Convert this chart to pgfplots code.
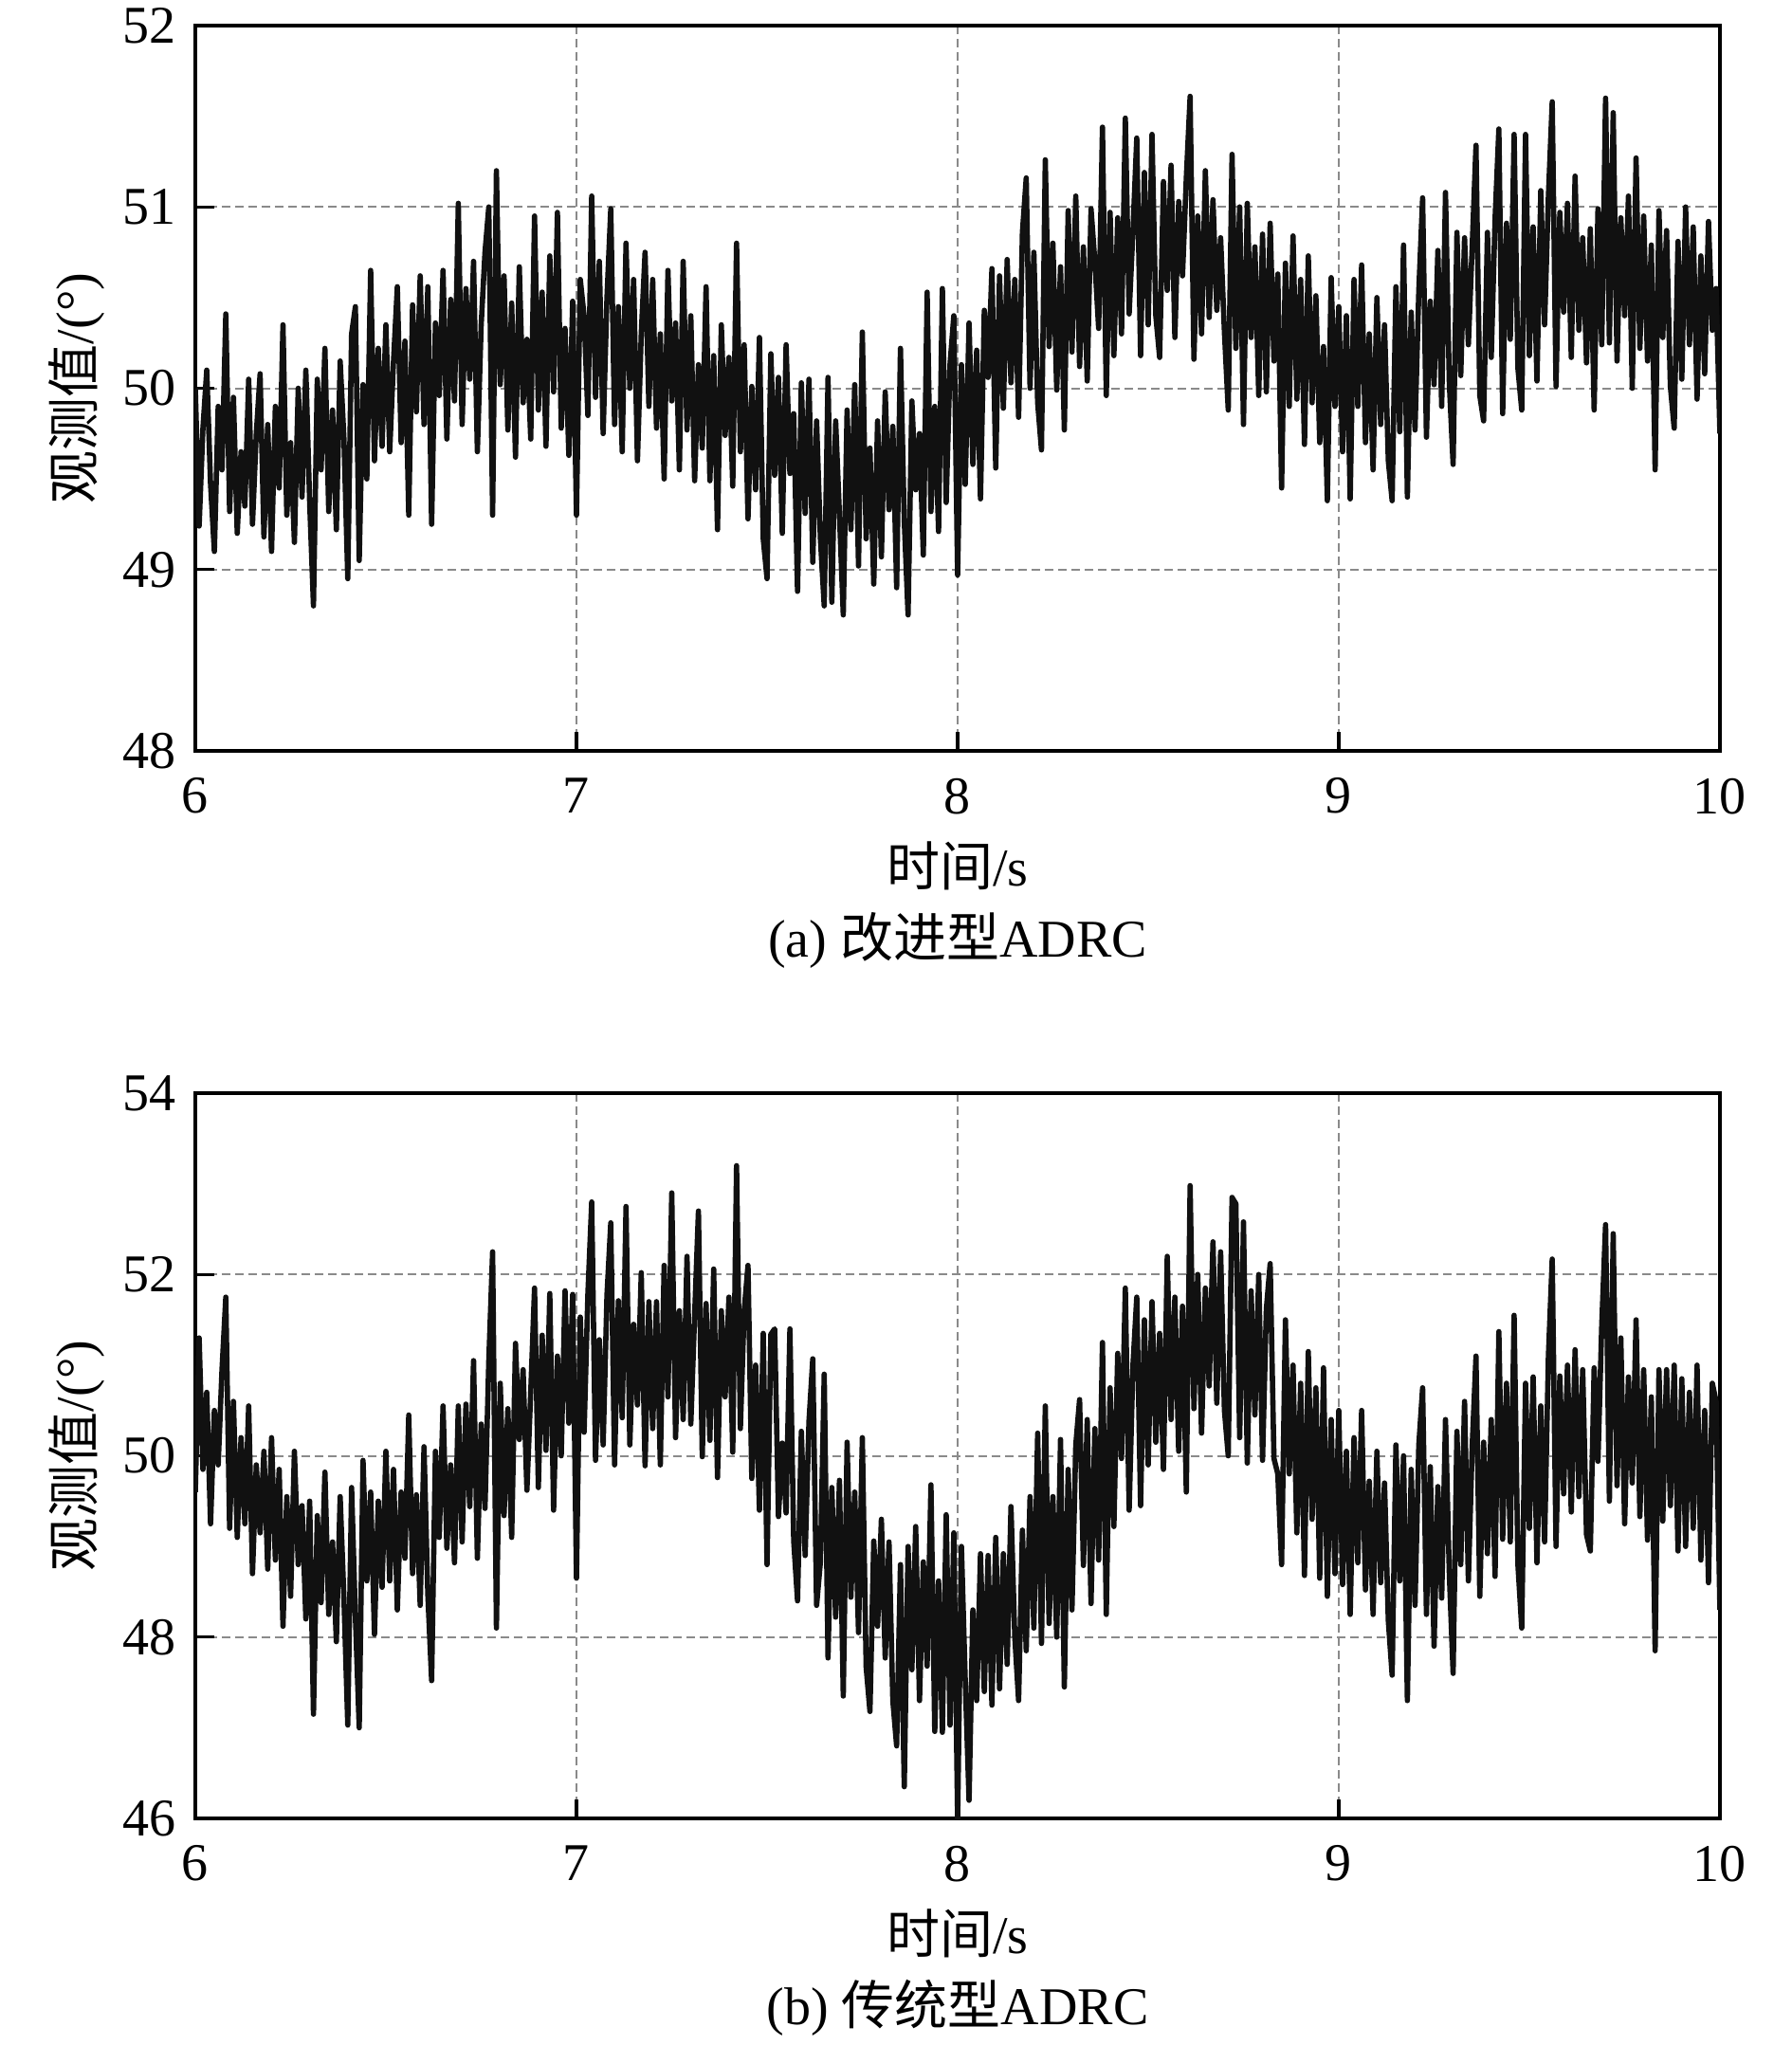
\documentclass[border=0pt]{standalone}
\usepackage{fontspec}
\setmainfont{Liberation Serif}
\newfontfamily\cjk{Noto Sans CJK SC}
\usepackage{pgfplots}
\usepackage{pgfplotstable}
\pgfplotsset{compat=1.18}
\definecolor{gridG}{HTML}{8A8A8A}
\definecolor{inkD}{HTML}{111111}

% (a) improved ADRC, observed angle
\pgfplotstableread[row sep=\\]{t y\\
6.00 50.00\\ 6.01 49.24\\ 6.02 49.78\\ 6.03 50.10\\ 6.04 49.47\\ 6.05 49.10\\ 6.06 49.90\\ 6.07 49.55\\ 6.08 50.41\\ 6.09 49.32\\
6.10 49.95\\ 6.11 49.20\\ 6.12 49.65\\ 6.13 49.35\\ 6.14 50.05\\ 6.15 49.25\\ 6.16 49.75\\ 6.17 50.08\\ 6.18 49.18\\ 6.19 49.80\\
6.20 49.10\\ 6.21 49.90\\ 6.22 49.45\\ 6.23 50.35\\ 6.24 49.30\\ 6.25 49.70\\ 6.26 49.15\\ 6.27 50.00\\ 6.28 49.40\\ 6.29 50.10\\
6.30 49.37\\ 6.31 48.80\\ 6.32 50.05\\ 6.33 49.55\\ 6.34 50.22\\ 6.35 49.32\\ 6.36 49.88\\ 6.37 49.22\\ 6.38 50.15\\ 6.39 49.72\\
6.40 48.95\\ 6.41 50.30\\ 6.42 50.45\\ 6.43 49.05\\ 6.44 50.02\\ 6.45 49.50\\ 6.46 50.65\\ 6.47 49.60\\ 6.48 50.22\\ 6.49 49.68\\
6.50 50.35\\ 6.51 49.65\\ 6.52 50.15\\ 6.53 50.56\\ 6.54 49.70\\ 6.55 50.26\\ 6.56 49.30\\ 6.57 50.46\\ 6.58 49.87\\ 6.59 50.62\\
6.60 49.80\\ 6.61 50.56\\ 6.62 49.25\\ 6.63 50.36\\ 6.64 49.96\\ 6.65 50.65\\ 6.66 49.72\\ 6.67 50.49\\ 6.68 49.93\\ 6.69 51.02\\
6.70 49.80\\ 6.71 50.55\\ 6.72 50.05\\ 6.73 50.70\\ 6.74 49.65\\ 6.75 50.35\\ 6.76 50.75\\ 6.77 51.00\\ 6.78 49.30\\ 6.79 51.20\\
6.80 50.02\\ 6.81 50.62\\ 6.82 49.77\\ 6.83 50.47\\ 6.84 49.62\\ 6.85 50.67\\ 6.86 49.92\\ 6.87 50.27\\ 6.88 49.72\\ 6.89 50.95\\
6.90 49.88\\ 6.91 50.53\\ 6.92 49.68\\ 6.93 50.73\\ 6.94 49.98\\ 6.95 50.97\\ 6.96 49.78\\ 6.97 50.33\\ 6.98 49.63\\ 6.99 50.48\\
7.00 49.30\\ 7.01 50.60\\ 7.02 50.40\\ 7.03 49.85\\ 7.04 51.06\\ 7.05 49.95\\ 7.06 50.70\\ 7.07 49.75\\ 7.08 50.50\\ 7.09 50.99\\
7.10 49.80\\ 7.11 50.45\\ 7.12 49.65\\ 7.13 50.80\\ 7.14 50.00\\ 7.15 50.60\\ 7.16 49.60\\ 7.17 50.30\\ 7.18 50.75\\ 7.19 49.90\\
7.20 50.60\\ 7.21 49.78\\ 7.22 50.30\\ 7.23 49.50\\ 7.24 50.65\\ 7.25 49.93\\ 7.26 50.36\\ 7.27 49.55\\ 7.28 50.70\\ 7.29 49.77\\
7.30 50.40\\ 7.31 49.49\\ 7.32 50.13\\ 7.33 49.67\\ 7.34 50.56\\ 7.35 49.49\\ 7.36 50.18\\ 7.37 49.22\\ 7.38 50.35\\ 7.39 49.74\\
7.40 50.17\\ 7.41 49.46\\ 7.42 50.80\\ 7.43 49.65\\ 7.44 50.24\\ 7.45 49.28\\ 7.46 50.01\\ 7.47 49.44\\ 7.48 50.28\\ 7.49 49.17\\
7.50 48.95\\ 7.51 50.19\\ 7.52 49.52\\ 7.53 50.06\\ 7.54 49.20\\ 7.55 50.24\\ 7.56 49.53\\ 7.57 49.86\\ 7.58 48.88\\ 7.59 50.03\\
7.60 49.31\\ 7.61 50.05\\ 7.62 49.04\\ 7.63 49.82\\ 7.64 49.17\\ 7.65 48.80\\ 7.66 50.06\\ 7.67 48.82\\ 7.68 49.82\\ 7.69 49.30\\
7.70 48.75\\ 7.71 49.88\\ 7.72 49.22\\ 7.73 50.02\\ 7.74 49.02\\ 7.75 50.31\\ 7.76 49.17\\ 7.77 49.67\\ 7.78 48.92\\ 7.79 49.82\\
7.80 49.07\\ 7.81 49.98\\ 7.82 49.33\\ 7.83 49.79\\ 7.84 48.90\\ 7.85 50.22\\ 7.86 49.27\\ 7.87 48.75\\ 7.88 49.93\\ 7.89 49.44\\
7.90 49.75\\ 7.91 49.08\\ 7.92 50.53\\ 7.93 49.32\\ 7.94 49.90\\ 7.95 49.21\\ 7.96 50.55\\ 7.97 49.37\\ 7.98 50.13\\ 7.99 50.40\\
8.00 48.97\\ 8.01 50.13\\ 8.02 49.47\\ 8.03 50.36\\ 8.04 49.58\\ 8.05 50.21\\ 8.06 49.39\\ 8.07 50.43\\ 8.08 50.06\\ 8.09 50.66\\
8.10 49.56\\ 8.11 50.62\\ 8.12 49.89\\ 8.13 50.71\\ 8.14 50.03\\ 8.15 50.60\\ 8.16 49.84\\ 8.17 50.86\\ 8.18 51.16\\ 8.19 50.00\\
8.20 50.75\\ 8.21 49.92\\ 8.22 49.66\\ 8.23 51.26\\ 8.24 50.23\\ 8.25 50.80\\ 8.26 49.99\\ 8.27 50.67\\ 8.28 49.77\\ 8.29 50.98\\
8.30 50.20\\ 8.31 51.06\\ 8.32 50.12\\ 8.33 50.78\\ 8.34 50.04\\ 8.35 50.99\\ 8.36 50.70\\ 8.37 50.33\\ 8.38 51.44\\ 8.39 49.96\\
8.40 50.97\\ 8.41 50.18\\ 8.42 50.94\\ 8.43 50.30\\ 8.44 51.49\\ 8.45 50.41\\ 8.46 50.87\\ 8.47 51.38\\ 8.48 50.18\\ 8.49 51.19\\
8.50 50.35\\ 8.51 51.40\\ 8.52 50.40\\ 8.53 50.17\\ 8.54 51.14\\ 8.55 50.54\\ 8.56 51.23\\ 8.57 50.28\\ 8.58 51.03\\ 8.59 50.62\\
8.60 51.16\\ 8.61 51.61\\ 8.62 50.16\\ 8.63 50.95\\ 8.64 50.30\\ 8.65 51.20\\ 8.66 50.39\\ 8.67 51.04\\ 8.68 50.43\\ 8.69 50.83\\
8.70 50.31\\ 8.71 49.88\\ 8.72 51.29\\ 8.73 50.22\\ 8.74 51.00\\ 8.75 49.80\\ 8.76 51.02\\ 8.77 50.28\\ 8.78 50.78\\ 8.79 49.96\\
8.80 50.85\\ 8.81 49.98\\ 8.82 50.91\\ 8.83 50.15\\ 8.84 50.63\\ 8.85 49.45\\ 8.86 50.69\\ 8.87 49.90\\ 8.88 50.84\\ 8.89 49.94\\
8.90 50.60\\ 8.91 49.69\\ 8.92 50.73\\ 8.93 49.92\\ 8.94 50.51\\ 8.95 49.70\\ 8.96 50.23\\ 8.97 49.38\\ 8.98 50.61\\ 8.99 49.90\\
9.00 50.45\\ 9.01 49.65\\ 9.02 50.40\\ 9.03 49.39\\ 9.04 50.60\\ 9.05 49.90\\ 9.06 50.68\\ 9.07 49.70\\ 9.08 50.30\\ 9.09 49.55\\
9.10 50.50\\ 9.11 49.80\\ 9.12 50.35\\ 9.13 49.60\\ 9.14 49.38\\ 9.15 50.56\\ 9.16 49.76\\ 9.17 50.79\\ 9.18 49.40\\ 9.19 50.42\\
9.20 49.77\\ 9.21 50.54\\ 9.22 51.05\\ 9.23 49.73\\ 9.24 50.48\\ 9.25 50.02\\ 9.26 50.76\\ 9.27 49.90\\ 9.28 51.08\\ 9.29 50.03\\
9.30 49.58\\ 9.31 50.86\\ 9.32 50.07\\ 9.33 50.83\\ 9.34 50.24\\ 9.35 50.78\\ 9.36 51.34\\ 9.37 49.96\\ 9.38 49.82\\ 9.39 50.86\\
9.40 50.17\\ 9.41 50.93\\ 9.42 51.43\\ 9.43 49.86\\ 9.44 50.91\\ 9.45 50.27\\ 9.46 51.40\\ 9.47 50.11\\ 9.48 49.88\\ 9.49 51.40\\
9.50 50.18\\ 9.51 50.89\\ 9.52 50.04\\ 9.53 51.09\\ 9.54 50.35\\ 9.55 51.06\\ 9.56 51.58\\ 9.57 50.01\\ 9.58 50.97\\ 9.59 50.42\\
9.60 51.02\\ 9.61 50.17\\ 9.62 51.17\\ 9.63 50.32\\ 9.64 50.83\\ 9.65 50.14\\ 9.66 50.88\\ 9.67 49.88\\ 9.68 50.99\\ 9.69 50.24\\
9.70 51.60\\ 9.71 50.25\\ 9.72 51.52\\ 9.73 50.15\\ 9.74 50.94\\ 9.75 50.40\\ 9.76 51.06\\ 9.77 50.00\\ 9.78 51.27\\ 9.79 50.22\\
9.80 50.95\\ 9.81 50.15\\ 9.82 50.79\\ 9.83 49.55\\ 9.84 50.98\\ 9.85 50.28\\ 9.86 50.87\\ 9.87 50.01\\ 9.88 49.78\\ 9.89 50.81\\
9.90 50.05\\ 9.91 51.00\\ 9.92 50.24\\ 9.93 50.89\\ 9.94 49.94\\ 9.95 50.73\\ 9.96 50.08\\ 9.97 50.92\\ 9.98 50.32\\ 9.99 50.55\\
10.00 49.75\\
}\dataA

% (b) conventional ADRC, observed angle
\pgfplotstableread[row sep=\\]{t y\\
6.00 49.60\\ 6.01 51.30\\ 6.02 49.85\\ 6.03 50.70\\ 6.04 49.25\\ 6.05 50.50\\ 6.06 49.90\\ 6.07 50.95\\ 6.08 51.75\\ 6.09 49.20\\
6.10 50.60\\ 6.11 49.10\\ 6.12 50.20\\ 6.13 49.25\\ 6.14 50.55\\ 6.15 48.70\\ 6.16 49.90\\ 6.17 49.15\\ 6.18 50.05\\ 6.19 48.75\\
6.20 50.20\\ 6.21 48.85\\ 6.22 49.85\\ 6.23 48.12\\ 6.24 49.55\\ 6.25 48.45\\ 6.26 50.05\\ 6.27 48.80\\ 6.28 49.45\\ 6.29 48.20\\
6.30 49.50\\ 6.31 47.15\\ 6.32 49.34\\ 6.33 48.38\\ 6.34 49.82\\ 6.35 48.25\\ 6.36 49.05\\ 6.37 47.95\\ 6.38 49.55\\ 6.39 48.42\\
6.40 47.03\\ 6.41 49.65\\ 6.42 48.22\\ 6.43 47.00\\ 6.44 49.95\\ 6.45 48.62\\ 6.46 49.60\\ 6.47 48.03\\ 6.48 49.50\\ 6.49 48.55\\
6.50 50.05\\ 6.51 48.62\\ 6.52 49.85\\ 6.53 48.30\\ 6.54 49.60\\ 6.55 48.87\\ 6.56 50.45\\ 6.57 48.70\\ 6.58 49.57\\ 6.59 48.35\\
6.60 50.10\\ 6.61 48.47\\ 6.62 47.52\\ 6.63 50.05\\ 6.64 49.10\\ 6.65 50.55\\ 6.66 48.98\\ 6.67 49.90\\ 6.68 48.82\\ 6.69 50.55\\
6.70 49.05\\ 6.71 50.57\\ 6.72 49.44\\ 6.73 51.05\\ 6.74 48.87\\ 6.75 50.35\\ 6.76 49.42\\ 6.77 51.05\\ 6.78 52.25\\ 6.79 48.10\\
6.80 50.80\\ 6.81 49.34\\ 6.82 50.52\\ 6.83 49.10\\ 6.84 51.24\\ 6.85 50.18\\ 6.86 50.95\\ 6.87 49.62\\ 6.88 50.70\\ 6.89 51.85\\
6.90 49.65\\ 6.91 51.33\\ 6.92 50.06\\ 6.93 51.79\\ 6.94 49.40\\ 6.95 51.10\\ 6.96 50.00\\ 6.97 51.82\\ 6.98 50.36\\ 6.99 51.78\\
7.00 48.65\\ 7.01 51.53\\ 7.02 50.26\\ 7.03 51.79\\ 7.04 52.80\\ 7.05 49.95\\ 7.06 51.28\\ 7.07 50.12\\ 7.08 51.77\\ 7.09 52.57\\
7.10 49.90\\ 7.11 51.71\\ 7.12 50.42\\ 7.13 52.75\\ 7.14 50.12\\ 7.15 51.45\\ 7.16 50.56\\ 7.17 52.02\\ 7.18 49.89\\ 7.19 51.70\\
7.20 50.30\\ 7.21 51.70\\ 7.22 49.90\\ 7.23 52.10\\ 7.24 50.65\\ 7.25 52.90\\ 7.26 50.20\\ 7.27 51.60\\ 7.28 50.40\\ 7.29 52.20\\
7.30 50.35\\ 7.31 51.55\\ 7.32 52.70\\ 7.33 49.99\\ 7.34 51.68\\ 7.35 50.17\\ 7.36 52.06\\ 7.37 49.76\\ 7.38 51.60\\ 7.39 50.65\\
7.40 51.75\\ 7.41 50.04\\ 7.42 53.20\\ 7.43 50.30\\ 7.44 51.60\\ 7.45 52.10\\ 7.46 49.75\\ 7.47 51.00\\ 7.48 49.40\\ 7.49 51.35\\
7.50 48.80\\ 7.51 51.34\\ 7.52 51.40\\ 7.53 49.33\\ 7.54 50.14\\ 7.55 49.37\\ 7.56 51.40\\ 7.57 49.06\\ 7.58 48.40\\ 7.59 50.27\\
7.60 48.90\\ 7.61 50.38\\ 7.62 51.07\\ 7.63 48.35\\ 7.64 48.83\\ 7.65 50.90\\ 7.66 47.77\\ 7.67 49.65\\ 7.68 48.22\\ 7.69 49.73\\
7.70 47.35\\ 7.71 50.15\\ 7.72 48.44\\ 7.73 49.60\\ 7.74 48.05\\ 7.75 50.20\\ 7.76 47.67\\ 7.77 47.18\\ 7.78 49.06\\ 7.79 48.12\\
7.80 49.30\\ 7.81 47.77\\ 7.82 49.05\\ 7.83 47.30\\ 7.84 46.80\\ 7.85 48.80\\ 7.86 46.35\\ 7.87 49.00\\ 7.88 47.64\\ 7.89 49.22\\
7.90 47.30\\ 7.91 48.83\\ 7.92 47.68\\ 7.93 49.68\\ 7.94 46.96\\ 7.95 48.62\\ 7.96 46.95\\ 7.97 49.35\\ 7.98 47.03\\ 7.99 49.15\\
8.00 45.98\\ 8.01 49.00\\ 8.02 47.52\\ 8.03 46.20\\ 8.04 48.30\\ 8.05 47.30\\ 8.06 48.92\\ 8.07 47.40\\ 8.08 48.90\\ 8.09 47.25\\
8.10 49.10\\ 8.11 47.43\\ 8.12 48.92\\ 8.13 47.70\\ 8.14 49.44\\ 8.15 48.00\\ 8.16 47.30\\ 8.17 49.18\\ 8.18 47.85\\ 8.19 49.55\\
8.20 48.10\\ 8.21 50.25\\ 8.22 47.93\\ 8.23 50.55\\ 8.24 48.15\\ 8.25 49.55\\ 8.26 48.00\\ 8.27 50.18\\ 8.28 47.45\\ 8.29 49.85\\
8.30 48.30\\ 8.31 50.12\\ 8.32 50.62\\ 8.33 48.79\\ 8.34 50.40\\ 8.35 48.37\\ 8.36 50.30\\ 8.37 48.85\\ 8.38 51.25\\ 8.39 48.25\\
8.40 50.75\\ 8.41 49.22\\ 8.42 51.13\\ 8.43 49.97\\ 8.44 51.85\\ 8.45 49.40\\ 8.46 51.00\\ 8.47 51.75\\ 8.48 49.45\\ 8.49 51.50\\
8.50 49.90\\ 8.51 51.70\\ 8.52 50.15\\ 8.53 51.35\\ 8.54 49.85\\ 8.55 52.20\\ 8.56 50.40\\ 8.57 51.75\\ 8.58 50.05\\ 8.59 51.65\\
8.60 49.60\\ 8.61 52.98\\ 8.62 50.52\\ 8.63 52.00\\ 8.64 50.25\\ 8.65 51.85\\ 8.66 50.77\\ 8.67 52.36\\ 8.68 50.58\\ 8.69 52.25\\
8.70 50.50\\ 8.71 50.00\\ 8.72 52.85\\ 8.73 52.78\\ 8.74 50.20\\ 8.75 52.58\\ 8.76 49.92\\ 8.77 51.82\\ 8.78 50.45\\ 8.79 52.00\\
8.80 49.95\\ 8.81 51.62\\ 8.82 52.12\\ 8.83 49.97\\ 8.84 49.80\\ 8.85 48.80\\ 8.86 51.50\\ 8.87 49.80\\ 8.88 51.00\\ 8.89 49.15\\
8.90 50.80\\ 8.91 48.68\\ 8.92 51.15\\ 8.93 49.30\\ 8.94 50.75\\ 8.95 48.65\\ 8.96 50.97\\ 8.97 48.45\\ 8.98 50.40\\ 8.99 48.70\\
9.00 50.50\\ 9.01 48.58\\ 9.02 50.05\\ 9.03 48.25\\ 9.04 50.20\\ 9.05 48.82\\ 9.06 50.50\\ 9.07 48.52\\ 9.08 49.72\\ 9.09 48.25\\
9.10 50.05\\ 9.11 48.60\\ 9.12 49.70\\ 9.13 48.18\\ 9.14 47.58\\ 9.15 50.12\\ 9.16 48.62\\ 9.17 50.00\\ 9.18 47.30\\ 9.19 49.85\\
9.20 48.35\\ 9.21 50.12\\ 9.22 50.75\\ 9.23 48.25\\ 9.24 49.88\\ 9.25 47.90\\ 9.26 49.66\\ 9.27 48.43\\ 9.28 50.40\\ 9.29 48.70\\
9.30 47.60\\ 9.31 50.27\\ 9.32 48.80\\ 9.33 50.60\\ 9.34 48.62\\ 9.35 50.10\\ 9.36 51.10\\ 9.37 48.45\\ 9.38 50.15\\ 9.39 48.92\\
9.40 50.40\\ 9.41 48.67\\ 9.42 51.37\\ 9.43 49.08\\ 9.44 50.80\\ 9.45 49.05\\ 9.46 51.55\\ 9.47 48.80\\ 9.48 48.10\\ 9.49 50.80\\
9.50 49.20\\ 9.51 50.87\\ 9.52 48.82\\ 9.53 50.55\\ 9.54 49.05\\ 9.55 51.10\\ 9.56 52.17\\ 9.57 49.00\\ 9.58 50.88\\ 9.59 49.58\\
9.60 51.00\\ 9.61 49.38\\ 9.62 51.17\\ 9.63 49.55\\ 9.64 50.95\\ 9.65 49.13\\ 9.66 48.95\\ 9.67 50.97\\ 9.68 49.94\\ 9.69 51.45\\
9.70 52.55\\ 9.71 49.50\\ 9.72 52.45\\ 9.73 49.67\\ 9.74 51.30\\ 9.75 49.25\\ 9.76 50.87\\ 9.77 49.70\\ 9.78 51.50\\ 9.79 49.33\\
9.80 50.95\\ 9.81 49.07\\ 9.82 50.65\\ 9.83 47.85\\ 9.84 50.95\\ 9.85 49.28\\ 9.86 50.95\\ 9.87 49.45\\ 9.88 51.00\\ 9.89 48.95\\
9.90 50.85\\ 9.91 49.00\\ 9.92 50.70\\ 9.93 49.20\\ 9.94 51.00\\ 9.95 48.85\\ 9.96 50.50\\ 9.97 48.60\\ 9.98 50.80\\ 9.99 50.60\\
10.00 48.30\\
}\dataB

\pgfplotsset{
  obsaxis/.style={
    scale only axis, width=402pt, height=191.25pt,
    anchor=south west,
    xmin=6, xmax=10, xtick={6,7,8,9,10},
    tick pos=left, tick align=inside, major tick length=5pt,
    every tick/.style={black, line width=0.8pt},
    axis line style={line width=1pt},
    grid=major,
    grid style={gridG, line width=0.5pt, dash pattern=on 2.2pt off 1.3pt},
    ticklabel style={font=\fontsize{14}{16}\selectfont, inner sep=1pt},
    /pgf/number format/assume math mode=true,
    xticklabel style={yshift=-6pt},
    yticklabel style={xshift=-4pt},
  },
  sig/.style={inkD, line width=1.4pt, line join=round, mark=none},
}
\tikzset{lab/.style={font=\fontsize{14}{16}\selectfont, inner sep=0pt}}

\begin{document}
\begin{tikzpicture}
\path (0,0) rectangle (472.5pt,-539.25pt);

\begin{axis}[obsaxis, name=A, at={(51.5pt,-198pt)},
    ymin=48, ymax=52, ytick={48,49,50,51,52}]
  \addplot[sig] table[x=t, y=y] {\dataA};
\end{axis}
\node[lab, rotate=90] at ([xshift=-31.25pt]A.west) {{\cjk 观测值}/(°)};
\node[lab] at ([yshift=-30.25pt]A.south) {{\cjk 时间}/s};
\node[lab] at ([yshift=-50pt]A.south) {(a) {\cjk 改进型}ADRC};

\begin{axis}[obsaxis, name=B, at={(51.5pt,-479.5pt)},
    ymin=46, ymax=54, ytick={46,48,50,52,54}]
  \addplot[sig] table[x=t, y=y] {\dataB};
\end{axis}
\node[lab, rotate=90] at ([xshift=-31.25pt]B.west) {{\cjk 观测值}/(°)};
\node[lab] at ([yshift=-30.25pt]B.south) {{\cjk 时间}/s};
\node[lab] at ([yshift=-50pt]B.south) {(b) {\cjk 传统型}ADRC};
\end{tikzpicture}
\end{document}
